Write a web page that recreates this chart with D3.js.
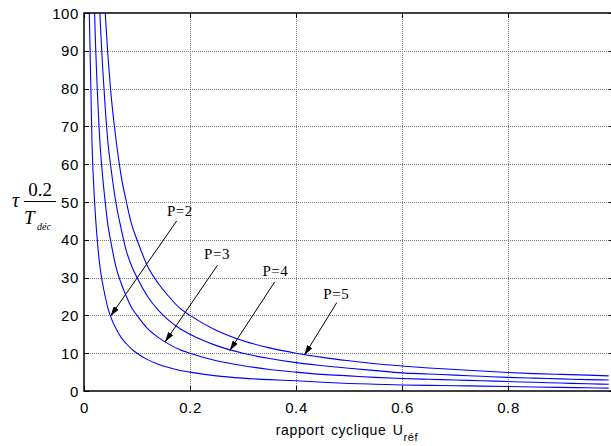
<!DOCTYPE html>
<html>
<head>
<meta charset="utf-8">
<script src="https://cdn.jsdelivr.net/npm/d3@7"></script>
<style>
  body { margin: 0; background: #fff; }
  .tick-label { font-family: "Liberation Sans", Arial, sans-serif; font-size: 15px; letter-spacing: 0.6px; fill: #000; }
  .serif { font-family: "Liberation Serif", "Times New Roman", serif; fill: #000; }
</style>
</head>
<body>
<div id="chart"></div>
<script>
/* Data */
let uValues = [0.01, 0.015, 0.02, 0.025, 0.03, 0.035, 0.04, 0.045, 0.05, 0.06, 0.07, 0.08, 0.09, 0.1,
  0.12, 0.14, 0.16, 0.18, 0.2, 0.25, 0.3, 0.35, 0.4, 0.45, 0.5, 0.55, 0.6, 0.65, 0.7, 0.75, 0.8,
  0.85, 0.9, 0.95, 0.99];

let p2Values = [100, 66, 50, 40, 33, 28.5, 25, 22, 19.8, 16.6, 14.2, 12.5, 11.1, 10.0,
  8.3, 7.1, 6.2, 5.5, 5.0, 4.0, 3.4, 3.0, 2.7, 2.3, 2.0, 1.8, 1.6, 1.5, 1.4, 1.3, 1.2,
  1.05, 0.95, 0.85, 0.75];
let p3Values = [200, 133, 100, 80, 66, 57, 50, 44, 40, 33, 28.5, 25, 22, 20,
  16.5, 14.2, 12.4, 11, 10, 8, 6.7, 5.7, 5.0, 4.4, 4.0, 3.6, 3.3, 3.1, 2.9, 2.7, 2.5,
  2.3, 2.1, 1.9, 1.8];
let p4Values = [300, 200, 150, 120, 100, 86, 75, 66, 60, 50, 43, 37, 33, 30,
  25, 21.4, 18.7, 16.6, 15, 12, 10, 8.6, 7.5, 6.7, 6.0, 5.4, 4.8, 4.5, 4.2, 3.9, 3.6,
  3.4, 3.2, 3.0, 2.9];
let p5Values = [400, 267, 200, 160, 133, 114, 100, 89, 80, 67, 57, 50, 44, 40,
  33, 28.5, 25, 22, 20, 16, 13.3, 11.4, 10, 8.9, 8, 7.2, 6.6, 6.1, 5.7, 5.3, 4.9,
  4.6, 4.4, 4.2, 4.0];

let xTicks = [0, 0.2, 0.4, 0.6, 0.8];
let xTickLabels = ["0", "0.2", "0.4", "0.6", "0.8"];
let yTicks = [0, 10, 20, 30, 40, 50, 60, 70, 80, 90, 100];

/* annotation label, text anchor (u, value), arrow start, arrow tip */
let noteLabels = ["P=2", "P=3", "P=4", "P=5"];
let noteText = [[0.181, 46.4], [0.251, 34.8], [0.361, 30.4], [0.476, 24.3]];
let noteFrom = [[0.175, 45.0], [0.252, 33.3], [0.360, 28.9], [0.477, 23.4]];
let noteTip = [[0.050, 19.8], [0.153, 13.0], [0.275, 10.7], [0.416, 9.5]];

let width = 611;
let height = 446;
let plotLeft = 84, plotRight = 614, plotTop = 13, plotBottom = 391;

let xScale = d3.scaleLinear().domain([0, 1]).range([plotLeft, plotRight]);
let yScale = d3.scaleLinear().domain([0, 100]).range([plotBottom, plotTop]);

let svg = d3
  .select("#chart")
  .append("svg")
  .attr("width", width)
  .attr("height", height);

let defs = svg.append("defs");
defs.append("clipPath")
  .attr("id", "plot-clip")
  .append("rect")
  .attr("x", plotLeft)
  .attr("y", plotTop)
  .attr("width", plotRight - plotLeft)
  .attr("height", plotBottom - plotTop);

defs.append("marker")
  .attr("id", "arrow")
  .attr("markerUnits", "userSpaceOnUse")
  .attr("viewBox", "0 0 10 6")
  .attr("refX", 10)
  .attr("refY", 3)
  .attr("markerWidth", 10)
  .attr("markerHeight", 6)
  .attr("orient", "auto")
  .append("path")
  .attr("d", "M0,0 L10,3 L0,6 Z")
  .attr("fill", "#000");

/* Grid */
let grid = svg.append("g").attr("stroke", "#808080").attr("stroke-dasharray", "1,1").attr("stroke-width", 1);
grid.selectAll(".vgrid")
  .data(xTicks.filter(d => d > 0))
  .enter()
  .append("line")
  .attr("x1", d => Math.round(xScale(d)) + 0.5)
  .attr("x2", d => Math.round(xScale(d)) + 0.5)
  .attr("y1", plotTop)
  .attr("y2", plotBottom);
grid.selectAll(".hgrid")
  .data(yTicks.filter(d => d > 0 && d < 100))
  .enter()
  .append("line")
  .attr("x1", plotLeft)
  .attr("x2", plotRight)
  .attr("y1", d => Math.round(yScale(d)) + 0.5)
  .attr("y2", d => Math.round(yScale(d)) + 0.5);

/* Curves */
let line = d3
  .line()
  .x((d, i) => xScale(uValues[i]))
  .y(d => yScale(d))
  .curve(d3.curveMonotoneX);

svg.append("g")
  .attr("clip-path", "url(#plot-clip)")
  .selectAll("path")
  .data([p2Values, p3Values, p4Values, p5Values])
  .enter()
  .append("path")
  .attr("d", d => line(d))
  .attr("fill", "none")
  .attr("stroke", "#0000ff")
  .attr("stroke-width", 1.1);

/* Axes box and inward ticks */
let axes = svg.append("g").attr("stroke", "#000");
axes.append("rect")
  .attr("x", plotLeft)
  .attr("y", plotTop)
  .attr("width", plotRight - plotLeft)
  .attr("height", plotBottom - plotTop)
  .attr("fill", "none")
  .attr("stroke-width", 1.5);

let tickLen = 5;
yTicks.forEach(d => {
  let y = Math.round(yScale(d)) + 0.5;
  axes.append("line").attr("x1", plotLeft).attr("x2", plotLeft + tickLen).attr("y1", y).attr("y2", y);
  axes.append("line").attr("x1", plotRight).attr("x2", plotRight - tickLen).attr("y1", y).attr("y2", y);
});
xTicks.forEach(d => {
  let x = Math.round(xScale(d)) + 0.5;
  axes.append("line").attr("x1", x).attr("x2", x).attr("y1", plotBottom).attr("y2", plotBottom - tickLen);
  axes.append("line").attr("x1", x).attr("x2", x).attr("y1", plotTop).attr("y2", plotTop + tickLen);
});

/* Tick labels */
svg.selectAll(".ylab")
  .data(yTicks)
  .enter()
  .append("text")
  .attr("class", "tick-label")
  .attr("x", plotLeft - 5)
  .attr("y", d => yScale(d) + 5.5)
  .attr("text-anchor", "end")
  .text(d => d);

svg.selectAll(".xlab")
  .data(xTicks)
  .enter()
  .append("text")
  .attr("class", "tick-label")
  .attr("x", d => xScale(d) + 0.5)
  .attr("y", 413)
  .attr("text-anchor", "middle")
  .text((d, i) => xTickLabels[i]);

/* X label */
let xLabel = svg.append("text")
  .attr("class", "tick-label")
  .attr("x", (plotLeft + 610) / 2)
  .attr("y", 435)
  .attr("text-anchor", "middle")
  .style("font-size", "14px")
  .style("letter-spacing", "0.6px")
  .style("word-spacing", "2px");
xLabel.append("tspan").text("rapport cyclique U");
xLabel.append("tspan").attr("dy", 6).style("font-size", "11px").text("réf");

/* Y label: tau 0.2 / T_déc */
let yLabel = svg.append("g");
yLabel.append("text").attr("class", "serif").attr("x", 12).attr("y", 207)
  .style("font-size", "20px").style("font-style", "italic").text("τ");
yLabel.append("text").attr("class", "serif").attr("x", 40).attr("y", 196)
  .attr("text-anchor", "middle").style("font-size", "19px").text("0.2");
yLabel.append("line").attr("x1", 24).attr("x2", 56).attr("y1", 201.5).attr("y2", 201.5)
  .attr("stroke", "#000").attr("stroke-width", 1);
yLabel.append("text").attr("class", "serif").attr("x", 24).attr("y", 224)
  .style("font-size", "19px").style("font-style", "italic").text("T");
yLabel.append("text").attr("class", "serif").attr("x", 37).attr("y", 230)
  .style("font-size", "10px").style("font-style", "italic").text("déc");

/* Annotations */
let notes = svg.append("g");
noteLabels.forEach((label, i) => {
  notes.append("line")
    .attr("x1", xScale(noteFrom[i][0]))
    .attr("y1", yScale(noteFrom[i][1]))
    .attr("x2", xScale(noteTip[i][0]))
    .attr("y2", yScale(noteTip[i][1]))
    .attr("stroke", "#000")
    .attr("stroke-width", 1)
    .attr("marker-end", "url(#arrow)");
  notes.append("text")
    .attr("class", "serif")
    .attr("x", xScale(noteText[i][0]))
    .attr("y", yScale(noteText[i][1]))
    .attr("text-anchor", "middle")
    .style("font-size", "15px")
    .style("letter-spacing", "0.5px")
    .text(label);
});
</script>
</body>
</html>
